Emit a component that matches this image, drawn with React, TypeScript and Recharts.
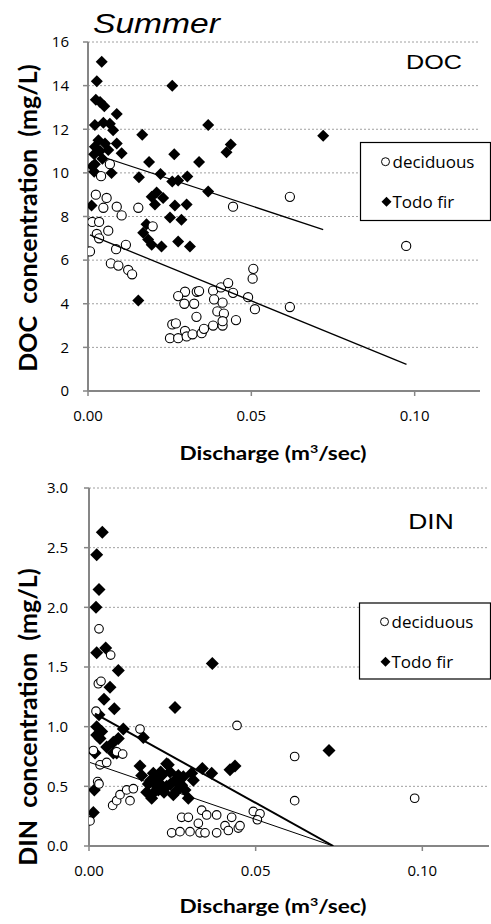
import React from 'react';
import { ScatterChart, Scatter, XAxis, YAxis, CartesianGrid } from 'recharts';

type Pt = [number, number];

// Discharge (m3/sec) vs DOC (mg/L)
const docDeciduous: Pt[] = [
  [0.0067, 10.4], [0.004, 9.85], [0.0024, 9.0], [0.0057, 8.85], [0.0047, 8.4], [0.0088, 8.45],
  [0.0103, 8.05], [0.0154, 8.4], [0.0013, 7.75], [0.0034, 7.75], [0.0062, 7.35], [0.0027, 7.2],
  [0.0034, 7.0], [0.0006, 6.4], [0.0086, 6.5], [0.0116, 6.7], [0.0198, 7.55], [0.007, 5.85],
  [0.0093, 5.75], [0.0123, 5.55], [0.0135, 5.35], [0.0444, 8.45], [0.0618, 8.9], [0.0974, 6.65],
  [0.0618, 3.85], [0.0297, 4.55], [0.0333, 4.55], [0.034, 4.58], [0.0276, 4.35], [0.0295, 4.0],
  [0.0325, 4.0], [0.0383, 4.6], [0.0407, 4.75], [0.0429, 4.95], [0.0444, 4.5], [0.0386, 4.2],
  [0.0412, 4.05], [0.049, 4.3], [0.0506, 5.6], [0.0504, 5.15], [0.0511, 3.75], [0.0396, 3.65],
  [0.0416, 3.55], [0.0332, 3.4], [0.0453, 3.25], [0.0258, 3.05], [0.0269, 3.1], [0.0297, 2.75],
  [0.0251, 2.42], [0.0276, 2.42], [0.0302, 2.5], [0.032, 2.6], [0.0348, 2.65], [0.0355, 2.85],
  [0.0383, 3.0], [0.0412, 3.0], [0.0412, 3.2],
];
const docTodoFir: Pt[] = [
  [0.0042, 15.1], [0.0027, 14.2], [0.0024, 13.35], [0.0037, 13.25], [0.005, 13.05], [0.0088, 12.7],
  [0.0021, 12.2], [0.0047, 12.3], [0.0067, 12.25], [0.0077, 11.95], [0.0166, 11.75], [0.0032, 11.5],
  [0.0021, 11.2], [0.0052, 11.35], [0.0088, 11.35], [0.0037, 11.0], [0.0062, 11.05], [0.0103, 10.9],
  [0.0019, 10.85], [0.0021, 10.4], [0.0013, 10.3], [0.0044, 10.65], [0.0019, 10.05], [0.0072, 10.0],
  [0.0187, 10.5], [0.0264, 10.85], [0.0258, 14.0], [0.034, 10.5], [0.0156, 9.8], [0.0222, 9.95],
  [0.0258, 9.6], [0.0276, 9.65], [0.0304, 9.83], [0.0368, 12.2], [0.0437, 11.3], [0.0424, 10.95],
  [0.072, 11.7], [0.0368, 9.15], [0.0195, 8.9], [0.021, 9.1], [0.023, 8.85], [0.0205, 8.55],
  [0.0266, 8.5], [0.0302, 8.55], [0.0251, 7.95], [0.0286, 7.85], [0.0179, 7.65], [0.0169, 7.25],
  [0.0184, 6.95], [0.0195, 6.7], [0.0225, 6.62], [0.0276, 6.85], [0.0312, 6.62], [0.0011, 8.5],
  [0.0154, 4.15],
];
const docTrendDeciduous: Pt[] = [[0.0006, 7.16], [0.0975, 1.22]];
const docTrendTodoFir: Pt[] = [[0.0011, 10.9], [0.072, 7.4]];

// Discharge (m3/sec) vs DIN (mg/L)
const dinDeciduous: Pt[] = [
  [0.003, 1.82], [0.0065, 1.6], [0.0028, 1.36], [0.0036, 1.38], [0.0021, 1.13], [0.0153, 0.98],
  [0.0444, 1.01], [0.0617, 0.75], [0.0013, 0.8], [0.0083, 0.79], [0.0101, 0.77], [0.0033, 0.68],
  [0.0053, 0.7], [0.0026, 0.54], [0.003, 0.52], [0.0003, 0.21], [0.0071, 0.34], [0.0083, 0.38],
  [0.0093, 0.43], [0.0113, 0.47], [0.0133, 0.48], [0.0123, 0.38], [0.0248, 0.11], [0.0273, 0.12],
  [0.0278, 0.24], [0.0298, 0.24], [0.0303, 0.12], [0.0338, 0.3], [0.0328, 0.19], [0.0353, 0.26],
  [0.0333, 0.11], [0.0348, 0.11], [0.0383, 0.26], [0.0383, 0.11], [0.0408, 0.17], [0.0418, 0.13],
  [0.0428, 0.24], [0.0448, 0.15], [0.0453, 0.17], [0.0493, 0.29], [0.0513, 0.27], [0.0505, 0.22],
  [0.0617, 0.38], [0.0977, 0.4],
];
const dinTodoFir: Pt[] = [
  [0.004, 2.63], [0.0023, 2.44], [0.003, 2.15], [0.0021, 2.0], [0.0023, 1.62], [0.005, 1.66],
  [0.0088, 1.47], [0.0063, 1.33], [0.0045, 1.23], [0.0076, 1.15], [0.0258, 1.16], [0.037, 1.53],
  [0.003, 1.1], [0.0023, 1.0], [0.0103, 0.98], [0.0163, 0.91], [0.0038, 0.96], [0.0023, 0.93],
  [0.0033, 0.9], [0.0073, 0.87], [0.0053, 0.83], [0.0088, 0.9], [0.0018, 0.78], [0.0083, 0.78],
  [0.0073, 0.78], [0.072, 0.8], [0.0423, 0.64], [0.0438, 0.67], [0.034, 0.65], [0.0368, 0.61],
  [0.0238, 0.68], [0.0153, 0.67], [0.0233, 0.69], [0.0308, 0.61], [0.0178, 0.52], [0.0198, 0.57],
  [0.0218, 0.59], [0.0173, 0.45], [0.0188, 0.4], [0.0208, 0.47], [0.0233, 0.5], [0.0258, 0.55],
  [0.0278, 0.51], [0.0288, 0.47], [0.0253, 0.43], [0.0298, 0.4], [0.0268, 0.59], [0.0243, 0.62],
  [0.0158, 0.59], [0.0313, 0.55], [0.0016, 0.47], [0.0013, 0.28], [0.021, 0.53], [0.0193, 0.61],
  [0.0185, 0.55], [0.0203, 0.5], [0.0225, 0.45], [0.0195, 0.45], [0.0215, 0.62], [0.0245, 0.52],
  [0.0265, 0.47], [0.0283, 0.58],
];
const dinTrendDeciduous: Pt[] = [[0.0003, 0.7], [0.0732, 0.0]];
const dinTrendTodoFir: Pt[] = [[0.0018, 1.11], [0.0733, 0.0]];

const xTicks = [0, 0.05, 0.1];
const docTicks = [0, 2, 4, 6, 8, 10, 12, 14, 16];
const dinTicks = [0, 0.5, 1.0, 1.5, 2.0, 2.5, 3.0];

const seriesNames = ['deciduous', 'Todo fir'];

const toRows = (pts: Pt[]) => pts.map(([x, y]) => ({ x, y }));

const axisGrey = '#868686';
const tickFont = { fontSize: 15, fill: '#000', fontFamily: '"Open Sans", sans-serif' };

const OpenCircle = (r: number) => (props: any) =>
  <circle cx={props.cx} cy={props.cy} r={r} fill="#fff" stroke="#000" strokeWidth={1.1} />;

const Diamond = (h: number) => (props: any) => {
  const { cx, cy } = props;
  return <path d={`M${cx},${cy - h}L${cx + h},${cy}L${cx},${cy + h}L${cx - h},${cy}Z`} fill="#000" />;
};

const NoDot = () => <g />;

interface PanelProps {
  deciduous: Pt[];
  todoFir: Pt[];
  trendDec: Pt[];
  trendFir: Pt[];
  yTicks: number[];
  yDigits: number;
  height: number;
  margin: { top: number; right: number; bottom: number; left: number };
  yWidth: number;
  yTickMargin: number;
  circleR: number;
  diamondH: number;
  decLineWidth: number;
  firLineWidth: number;
}

function Panel(p: PanelProps) {
  const yMax = p.yTicks[p.yTicks.length - 1];
  return (
    <ScatterChart width={491} height={p.height} margin={p.margin}>
      <CartesianGrid horizontal vertical={false} stroke="#a0a0a0" strokeDasharray="2 2" />
      <XAxis
        type="number"
        dataKey="x"
        domain={[0, 0.12]}
        ticks={xTicks}
        interval={0}
        height={30}
        tickFormatter={(v: number) => v.toFixed(2)}
        tick={tickFont}
        axisLine={{ stroke: axisGrey, strokeWidth: 2 }}
        tickLine={{ stroke: axisGrey, strokeWidth: 1.5 }}
        tickSize={5}
        tickMargin={14}
        allowDataOverflow
      />
      <YAxis
        type="number"
        dataKey="y"
        domain={[0, yMax]}
        ticks={p.yTicks}
        interval={0}
        width={p.yWidth}
        tickFormatter={(v: number) => v.toFixed(p.yDigits)}
        tick={tickFont}
        axisLine={{ stroke: axisGrey, strokeWidth: 2 }}
        tickLine={{ stroke: axisGrey, strokeWidth: 1.5 }}
        tickSize={5}
        tickMargin={p.yTickMargin}
        allowDataOverflow
      />
      <Scatter name="Todo fir" data={toRows(p.todoFir)} shape={Diamond(p.diamondH)} isAnimationActive={false} />
      <Scatter name="deciduous" data={toRows(p.deciduous)} shape={OpenCircle(p.circleR)} isAnimationActive={false} />
      <Scatter
        data={toRows(p.trendDec)}
        line={{ stroke: '#000', strokeWidth: p.decLineWidth }}
        shape={NoDot}
        isAnimationActive={false}
      />
      <Scatter
        data={toRows(p.trendFir)}
        line={{ stroke: '#000', strokeWidth: p.firLineWidth }}
        shape={NoDot}
        isAnimationActive={false}
      />
    </ScatterChart>
  );
}

function LegendBox({ x, y, w, h, row1, row2 }: { x: number; y: number; w: number; h: number; row1: number; row2: number }) {
  const f = '"Open Sans", sans-serif';
  return (
    <g>
      <rect x={x} y={y} width={w} height={h} fill="#fff" stroke="#000" strokeWidth={1.2} />
      <circle cx={x + 25} cy={row1} r={4} fill="#fff" stroke="#000" strokeWidth={1} />
      <text x={x + 32} y={row1 + 6} fontSize={17} fontFamily={f}>{seriesNames[0]}</text>
      <path d={`M${x + 26},${row2 - 5}L${x + 31},${row2}L${x + 26},${row2 + 5}L${x + 21},${row2}Z`} fill="#000" />
      <text x={x + 32} y={row2 + 6} fontSize={17} fontFamily={f}>{seriesNames[1]}</text>
    </g>
  );
}

export default function App() {
  const titleFont = 'Lato, sans-serif';
  return (
    <div style={{ position: 'relative', width: 491, height: 924, background: '#fff', overflow: 'hidden' }}>
      <style>{'body{margin:0}'}</style>
      <div style={{ position: 'absolute', left: 0, top: 0 }}>
        <Panel
          deciduous={docDeciduous}
          todoFir={docTodoFir}
          trendDec={docTrendDeciduous}
          trendFir={docTrendTodoFir}
          yTicks={docTicks}
          yDigits={0}
          height={460}
          margin={{ top: 42, right: 11, bottom: 39, left: 0 }}
          yWidth={88}
          yTickMargin={14}
          circleR={4.6}
          diamondH={6}
          decLineWidth={1.3}
          firLineWidth={1.3}
        />
      </div>
      <div style={{ position: 'absolute', left: 0, top: 460 }}>
        <Panel
          deciduous={dinDeciduous}
          todoFir={dinTodoFir}
          trendDec={dinTrendDeciduous}
          trendFir={dinTrendTodoFir}
          yTicks={dinTicks}
          yDigits={1}
          height={464}
          margin={{ top: 28, right: 2, bottom: 48, left: 0 }}
          yWidth={89}
          yTickMargin={16}
          circleR={4.3}
          diamondH={6.5}
          decLineWidth={1}
          firLineWidth={2}
        />
      </div>
      <svg width={491} height={924} style={{ position: 'absolute', left: 0, top: 0, pointerEvents: 'none' }}>
        <text transform="translate(93,33) scale(1.2,1)" fontSize={28} fontStyle="italic" fontFamily='"Liberation Sans", Arial, sans-serif'>Summer</text>
        <text transform="translate(434,68.5) scale(1.2,1)" textAnchor="middle" fontSize={21} fontFamily='"Liberation Sans", Arial, sans-serif'>DOC</text>
        <text transform="translate(431,528.5) scale(1.2,1)" textAnchor="middle" fontSize={22} fontFamily='"Liberation Sans", Arial, sans-serif'>DIN</text>
        <LegendBox x={360.5} y={142.5} w={130} h={78} row1={161.7} row2={201.7} />
        <LegendBox x={359.5} y={603} w={131} h={76} row1={621.7} row2={661.7} />
        <text transform="translate(273,460) scale(1.19,1)" textAnchor="middle" fontSize={19} fontWeight="bold" fontFamily={titleFont}>
          Discharge (m<tspan fontSize={12} dy={-7}>3</tspan><tspan dy={7}>/sec)</tspan>
        </text>
        <text transform="translate(273,913) scale(1.19,1)" textAnchor="middle" fontSize={19} fontWeight="bold" fontFamily={titleFont}>
          Discharge (m<tspan fontSize={12} dy={-7}>3</tspan><tspan dy={7}>/sec)</tspan>
        </text>
        <text transform="translate(37,218) rotate(-90)" textAnchor="middle" fontSize={25} fontWeight="bold" fontFamily={titleFont} style={{ whiteSpace: 'pre' }}>
          {'DOC  concentration  (mg/L)'}
        </text>
        <text transform="translate(37,717) rotate(-90)" textAnchor="middle" fontSize={25} fontWeight="bold" fontFamily={titleFont} style={{ whiteSpace: 'pre' }}>
          {'DIN  concentration  (mg/L)'}
        </text>
      </svg>
    </div>
  );
}
